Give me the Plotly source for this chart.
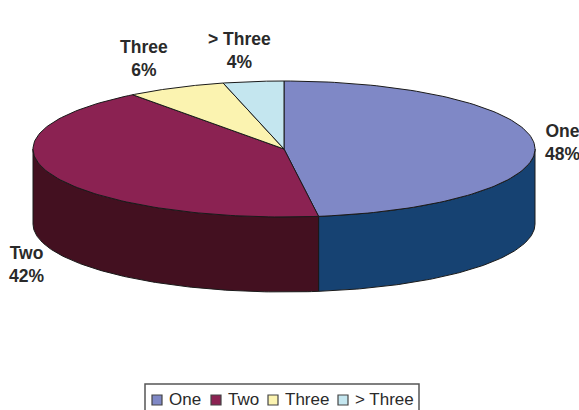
import numpy as np
import plotly.graph_objects as go

categories = ["One", "Two", "Three", "> Three"]
shares = [47.8, 41.9, 6.4, 3.9]
top_colors = ["#7F88C6", "#8B2252", "#FBF3B0", "#C4E6EF"]
side_colors = ["#164272", "#431020", "#8A8455", "#6A8A90"]
label_pos = [(562, 142), (26, 264), (144, 58), (239, 50)]
legend_swatch_x = [157, 216, 273, 343]
legend_text_x = [167, 226, 283, 353]

CX, CY, RX, RY, DEPTH = 284, 149, 251, 68, 75
EDGE = "#1a1a1a"
LEGEND_Y = 399

fig = go.Figure()


def px(a):
    return CX + RX * np.sin(a), CY - RY * np.cos(a)


edges = np.cumsum([0] + shares) / sum(shares) * 2 * np.pi

# Side wall: only the front half of the ellipse is visible
for i, c in enumerate(side_colors):
    a0, a1 = max(edges[i], np.pi / 2), min(edges[i + 1], 3 * np.pi / 2)
    if a1 <= a0:
        continue
    t = np.linspace(a0, a1, 120)
    x, y = px(t)
    fig.add_trace(go.Scatter(
        x=np.r_[x, x[::-1], x[0]], y=np.r_[y, y[::-1] + DEPTH, y[0]],
        mode="lines", fill="toself", fillcolor=c,
        line=dict(color=EDGE, width=1), hoverinfo="skip", showlegend=False))

# Top face
for i, c in enumerate(top_colors):
    t = np.linspace(edges[i], edges[i + 1], 120)
    x, y = px(t)
    fig.add_trace(go.Scatter(
        x=np.r_[CX, x, CX], y=np.r_[CY, y, CY],
        mode="lines", fill="toself", fillcolor=c, name=categories[i],
        line=dict(color=EDGE, width=1), hoverinfo="skip", showlegend=False))

# Legend swatches
fig.add_trace(go.Scatter(
    x=legend_swatch_x, y=[LEGEND_Y + 1] * 4, mode="markers", showlegend=False, hoverinfo="skip",
    marker=dict(symbol="square", size=10, color=top_colors, line=dict(color="#444", width=1.2))))

annotations = [
    dict(x=lx, y=ly, xref="x", yref="y", showarrow=False,
         text=f"<b>{n}<br>{round(s)}%</b>", align="center",
         font=dict(family="Liberation Sans", size=17.5, color="#2a2a2a"))
    for n, s, (lx, ly) in zip(categories, shares, label_pos)
] + [
    dict(x=tx, y=LEGEND_Y, xref="x", yref="y", showarrow=False, xanchor="left",
         text=n, font=dict(family="Liberation Sans", size=17, color="#2a2a2a"))
    for n, tx in zip(categories, legend_text_x)
]

fig.update_layout(
    width=579, height=410, margin=dict(l=0, r=0, t=0, b=0, autoexpand=False),
    paper_bgcolor="white", plot_bgcolor="white",
    xaxis=dict(range=[0, 579], visible=False, fixedrange=True),
    yaxis=dict(range=[410, 0], visible=False, fixedrange=True),
    annotations=annotations,
    shapes=[dict(type="rect", xref="x", yref="y", x0=145, x1=419, y0=384, y1=416,
                 line=dict(color="#555", width=1.5), fillcolor="rgba(0,0,0,0)", layer="below")],
    showlegend=False,
)
fig.write_html("out.html", config={"displayModeBar": False},
               post_script="document.body.style.margin='0';")
